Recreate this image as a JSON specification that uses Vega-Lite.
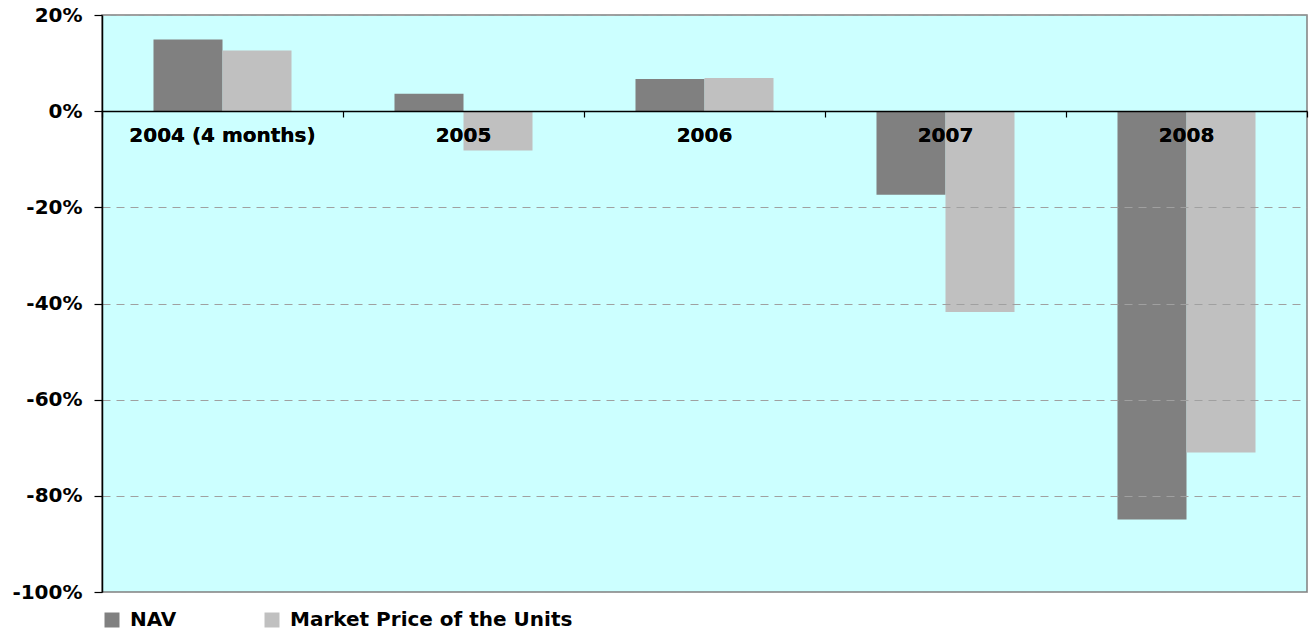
{
  "$schema": "https://vega.github.io/schema/vega-lite/v6.json",
  "autosize": "none",
  "width": 1205,
  "height": 577,
  "padding": {"left": 102, "top": 15, "right": 8, "bottom": 41},
  "background": "white",
  "config": {
    "view": {"fill": "#CCFFFF", "stroke": "#808080", "strokeWidth": 1.5},
    "font": "DejaVu Sans"
  },
  "data": {
    "values": [
      {"year": "2004 (4 months)", "series": "NAV", "value": 0.149},
      {"year": "2004 (4 months)", "series": "Market Price of the Units", "value": 0.126},
      {"year": "2005", "series": "NAV", "value": 0.036},
      {"year": "2005", "series": "Market Price of the Units", "value": -0.082},
      {"year": "2006", "series": "NAV", "value": 0.067},
      {"year": "2006", "series": "Market Price of the Units", "value": 0.069},
      {"year": "2007", "series": "NAV", "value": -0.174},
      {"year": "2007", "series": "Market Price of the Units", "value": -0.4175},
      {"year": "2008", "series": "NAV", "value": -0.849},
      {"year": "2008", "series": "Market Price of the Units", "value": -0.71}
    ]
  },
  "layer": [
    {
      "mark": {"type": "bar"},
      "encoding": {
        "x": {
          "field": "year",
          "type": "nominal",
          "sort": null,
          "scale": {"paddingInner": 0, "paddingOuter": 0},
          "axis": {
            "orient": "top",
            "offset": -96,
            "title": null,
            "labels": false,
            "tickBand": "extent",
            "tickSize": -6,
            "tickColor": "#000000",
            "tickWidth": 1.2,
            "domainColor": "#000000",
            "domainWidth": 1.5,
            "grid": false,
            "zindex": 1
          }
        },
        "xOffset": {
          "field": "series",
          "type": "nominal",
          "sort": ["NAV", "Market Price of the Units"],
          "scale": {"paddingInner": 0, "paddingOuter": 0.746}
        },
        "y": {
          "field": "value",
          "type": "quantitative",
          "scale": {"domain": [-1, 0.2], "nice": false, "zero": false},
          "axis": {
            "title": null,
            "values": [-1, -0.8, -0.6, -0.4, -0.2, 0, 0.2],
            "format": ".0%",
            "labelExpr": "replace(datum.label, '\u2212', '-')",
            "labelFont": "DejaVu Sans",
            "labelFontWeight": "bold",
            "labelFontSize": 20,
            "labelColor": "#000000",
            "labelPadding": 12,
            "tickSize": 8,
            "tickColor": "#000000",
            "tickWidth": 1.2,
            "domainColor": "#000000",
            "domainWidth": 1.5,
            "grid": true,
            "gridColor": "#A0A0A0",
            "gridDash": [8, 6],
            "gridWidth": 1,
            "zindex": 1
          }
        },
        "color": {
          "field": "series",
          "type": "nominal",
          "sort": ["NAV", "Market Price of the Units"],
          "scale": {"domain": ["NAV", "Market Price of the Units"], "range": ["#808080", "#C0C0C0"]},
          "legend": {
            "title": null,
            "orient": "none",
            "legendX": 0,
            "legendY": 595,
            "direction": "horizontal",
            "symbolType": "square",
            "symbolSize": 225,
            "symbolStrokeWidth": 0,
            "labelFont": "DejaVu Sans",
            "labelFontWeight": "bold",
            "labelFontSize": 20,
            "labelColor": "#000000",
            "labelOffset": 8,
            "columnPadding": 85,
            "labelLimit": 500
          }
        }
      }
    },
    {
      "mark": {"type": "text", "dy": 25, "fontWeight": "bold", "fontSize": 20, "font": "DejaVu Sans", "color": "#000000", "baseline": "middle", "align": "center"},
      "encoding": {
        "x": {"field": "year", "type": "nominal", "sort": null},
        "y": {"datum": 0},
        "text": {"field": "year", "type": "nominal"}
      }
    }
  ]
}
